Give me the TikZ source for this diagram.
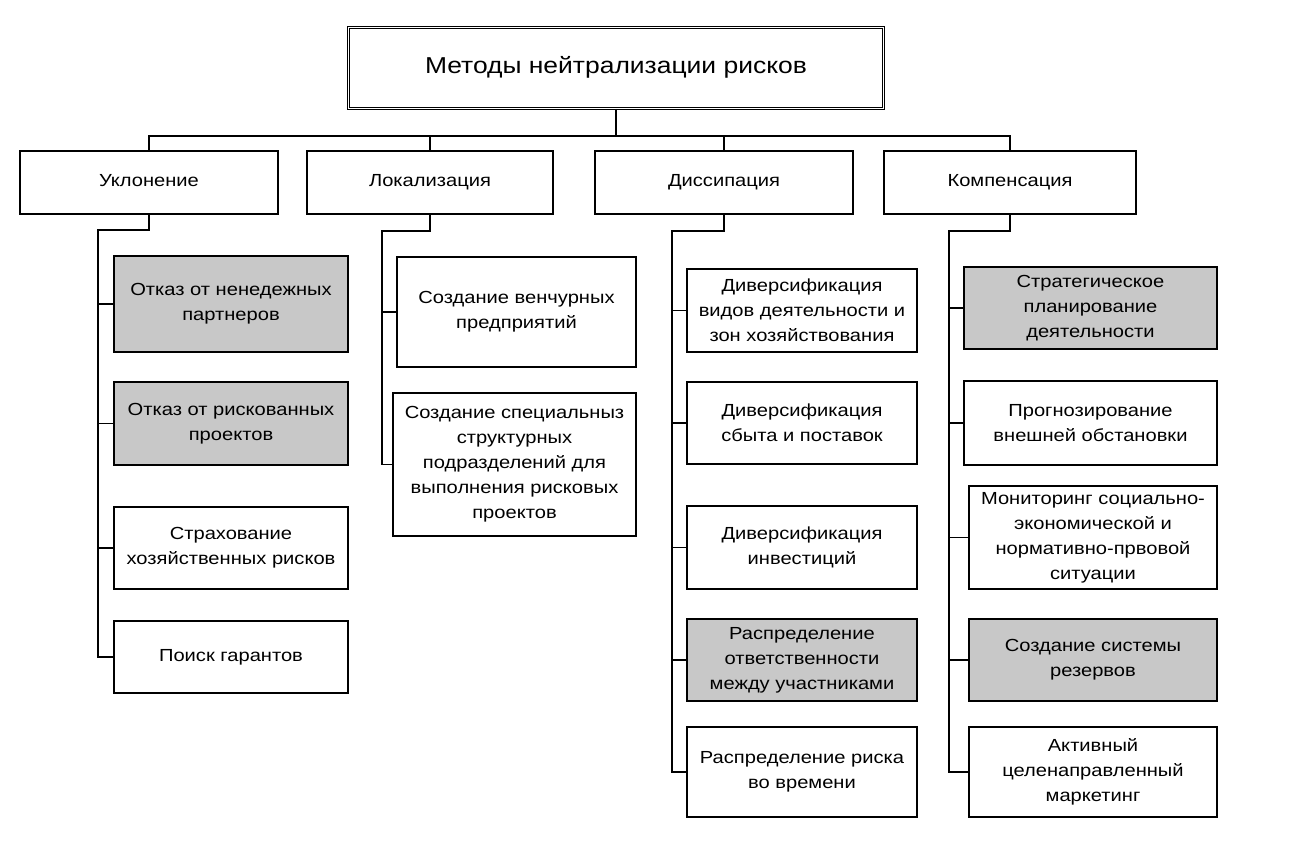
\documentclass[tikz,border=0pt]{standalone}
\usepackage{fontspec}
\setmainfont[FakeStretch=1.15]{Liberation Sans}
\usetikzlibrary{calc}
\definecolor{shadeBox}{RGB}{200,200,200}
\tikzset{
    every node/.append style={align=center},
    topbox/.style={rectangle,draw=black,double,double distance=1.6pt,line width=0.9pt,
        font=\fontsize{23}{27}\selectfont,inner sep=0pt,text height=16pt,text depth=5pt},
    catbox/.style={rectangle,draw=black,line width=1.2pt,minimum height=63pt,
        font=\fontsize{17.5}{25}\selectfont,inner sep=0pt,text height=12.5pt,text depth=4pt},
    item/.style={rectangle,draw=black,line width=1.1pt,
        font=\fontsize{17.5}{25}\selectfont,inner sep=0pt},
    shaded/.style={item,fill=shadeBox},
    bus/.style={line width=1.1pt}
}
\begin{document}
\begin{tikzpicture}[x=1pt,y=-1pt]
    \useasboundingbox (0,0) rectangle (1299,860);

    \node[topbox,minimum width=535pt,minimum height=81pt] (top) at (616,68) {Методы нейтрализации рисков};

    \node[catbox,minimum width=258pt] (ukl)  at (149,182.5)  {Уклонение};
    \node[catbox,minimum width=246pt] (lok)  at (430,182.5)  {Локализация};
    \node[catbox,minimum width=258pt] (dis)  at (724,182.5)  {Диссипация};
    \node[catbox,minimum width=252pt] (komp) at (1010,182.5) {Компенсация};

    \node[shaded,minimum width=234pt,minimum height=96pt] (u1) at (231,304)   {Отказ от ненедежных\\партнеров};
    \node[shaded,minimum width=234pt,minimum height=83pt] (u2) at (231,423.5) {Отказ от рискованных\\проектов};
    \node[item,minimum width=234pt,minimum height=82pt]   (u3) at (231,548)   {Страхование\\хозяйственных рисков};
    \node[item,minimum width=234pt,minimum height=72pt,text height=12.5pt,text depth=4pt] (u4) at (231,657) {Поиск гарантов};

    \node[item,minimum width=239pt,minimum height=110pt] (l1) at (516.5,312)   {Создание венчурных\\предприятий};
    \node[item,minimum width=243pt,minimum height=143pt] (l2) at (514.5,464.5) {Создание специальныз\\структурных\\подразделений для\\выполнения рисковых\\проектов};

    \node[item,minimum width=230pt,minimum height=83pt]   (d1) at (802,310.5) {Диверсификация\\видов деятельности и\\зон хозяйствования};
    \node[item,minimum width=230pt,minimum height=82pt]   (d2) at (802,423)   {Диверсификация\\сбыта и поставок};
    \node[item,minimum width=230pt,minimum height=83pt]   (d3) at (802,547.5) {Диверсификация\\инвестиций};
    \node[shaded,minimum width=230pt,minimum height=82pt] (d4) at (802,660)   {Распределение\\ответственности\\между участниками};
    \node[item,minimum width=230pt,minimum height=90pt]   (d5) at (802,772)   {Распределение риска\\во времени};

    \node[shaded,minimum width=253pt,minimum height=82pt] (k1) at (1090.5,308) {Стратегическое\\планирование\\деятельности};
    \node[item,minimum width=253pt,minimum height=84pt]   (k2) at (1090.5,423) {Прогнозирование\\внешней обстановки};
    \node[item,minimum width=248pt,minimum height=103pt]  (k3) at (1093,537.5)  {Мониторинг социально-\\экономической и\\нормативно-првовой\\ситуации};
    \node[shaded,minimum width=248pt,minimum height=82pt] (k4) at (1093,660)    {Создание системы\\резервов};
    \node[item,minimum width=248pt,minimum height=90pt]   (k5) at (1093,772)    {Активный\\целенаправленный\\маркетинг};

    \coordinate (hb)    at (0,136);
    \coordinate (bukl)  at (98,230);
    \coordinate (blok)  at (382,231);
    \coordinate (bdis)  at (672,231);
    \coordinate (bkomp) at (949,231);

    \draw[bus] (top.south) -- (top.south |- hb);
    \draw[bus] (ukl.north) -- (ukl.north |- hb) -- (komp.north |- hb) -- (komp.north);
    \draw[bus] (lok.north |- hb) -- (lok.north);
    \draw[bus] (dis.north |- hb) -- (dis.north);

    \draw[bus] (ukl.south) -- (ukl.south |- bukl) -- (bukl) -- (bukl |- u4.west) -- (u4.west);
    \foreach \n in {u1,u2,u3}
        \draw[bus] (bukl |- \n.west) -- (\n.west);

    \draw[bus] (lok.south) -- (lok.south |- blok) -- (blok) -- (blok |- l2.west) -- (l2.west);
    \draw[bus] (blok |- l1.west) -- (l1.west);

    \draw[bus] (dis.south) -- (dis.south |- bdis) -- (bdis) -- (bdis |- d5.west) -- (d5.west);
    \foreach \n in {d1,d2,d3,d4}
        \draw[bus] (bdis |- \n.west) -- (\n.west);

    \draw[bus] (komp.south) -- (komp.south |- bkomp) -- (bkomp) -- (bkomp |- k5.west) -- (k5.west);
    \foreach \n in {k1,k2,k3,k4}
        \draw[bus] (bkomp |- \n.west) -- (\n.west);
\end{tikzpicture}
\end{document}
